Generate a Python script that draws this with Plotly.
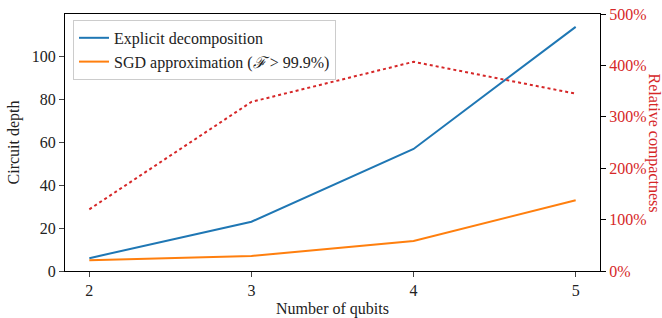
import plotly.graph_objects as go

qubits = [2, 3, 4, 5]
explicit_depth = [6, 23, 57, 114]
sgd_depth = [5, 7, 14, 33]
compactness_pct = [120, 329, 407, 345]

y_ticks = [0, 20, 40, 60, 80, 100]
y2_ticks = [0, 100, 200, 300, 400, 500]
y2_labels = [f"{v}%" for v in y2_ticks]

FONT = "Liberation Serif"
RED = "#d62728"
FS = 16

fig = go.Figure()
fig.add_trace(go.Scatter(x=qubits, y=compactness_pct, yaxis="y2", mode="lines",
                         line=dict(color=RED, width=2, dash="dot"), showlegend=False))
fig.add_trace(go.Scatter(x=qubits, y=explicit_depth, mode="lines",
                         name="Explicit decomposition", line=dict(color="#1f77b4", width=2)))
fig.add_trace(go.Scatter(x=qubits, y=sgd_depth, mode="lines",
                         name="SGD approximation (<i>ℱ</i> > 99.9%)", line=dict(color="#ff7f0e", width=2)))

fig.update_layout(
    width=662, height=318,
    margin=dict(l=65, r=62, t=14, b=47, autoexpand=False),
    paper_bgcolor="white", plot_bgcolor="white",
    font=dict(family=FONT, size=FS, color="#222"),
    xaxis=dict(range=[1.85, 5.15], tickvals=qubits, ticks="outside", ticklen=5,
               showline=True, linecolor="black", linewidth=1.2, mirror=True,
               showgrid=False, zeroline=False, automargin=False,
               title=dict(text="Number of qubits", standoff=4, font=dict(size=FS))),
    yaxis=dict(range=[0, 120], tickvals=y_ticks, ticks="outside", ticklen=5,
               showline=True, linecolor="black", linewidth=1.2,
               showgrid=False, zeroline=False, automargin=False,
               title=dict(text="Circuit depth", standoff=8, font=dict(size=FS))),
    yaxis2=dict(range=[0, 500], tickvals=y2_ticks, ticktext=y2_labels, overlaying="y", side="right",
                ticks="outside", ticklen=5, tickcolor="black",
                showline=True, linecolor="black", linewidth=1.2,
                showgrid=False, zeroline=False, automargin=False,
                ticklabeloverflow="allow",
                tickfont=dict(color=RED, size=FS)),
    legend=dict(x=0.015, y=0.977, xanchor="left", yanchor="top",
                bgcolor="rgba(255,255,255,0.8)", bordercolor="#cccccc", borderwidth=1,
                font=dict(size=FS), tracegroupgap=4),
    annotations=[dict(text="Relative compactness", xref="paper", yref="paper",
                      x=1.0, xshift=54, xanchor="center", yanchor="middle",
                      y=0.5, textangle=90, showarrow=False,
                      font=dict(color=RED, size=FS, family=FONT))],
)

fig.write_html("out.html", config={"displayModeBar": False},
               post_script="document.body.style.margin='0';document.body.style.overflow='hidden';")
